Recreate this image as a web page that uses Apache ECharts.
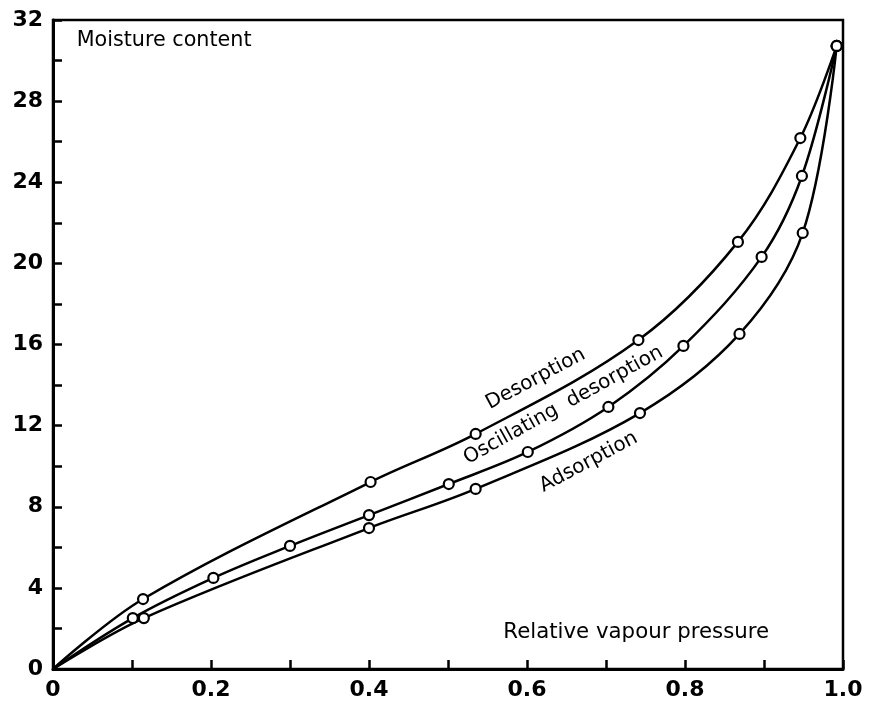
<!DOCTYPE html>
<html>
<head>
<meta charset="utf-8">
<script src="https://cdn.jsdelivr.net/npm/echarts@6/dist/echarts.min.js"></script>
<style>html,body{margin:0;padding:0;background:#fff}#c{width:872px;height:704px}</style>
</head>
<body>
<div id="c"></div>
<script>
// Relative vapour pressure (x) and moisture content (y)
const desorptionX = [0, 0.114, 0.402, 0.535, 0.741, 0.867, 0.946, 0.992];
const desorptionY = [0, 3.45, 9.22, 11.59, 16.22, 21.06, 26.18, 30.72];
const oscillatingX = [0, 0.101, 0.203, 0.300, 0.400, 0.501, 0.601, 0.703, 0.798, 0.897, 0.948, 0.992];
const oscillatingY = [0, 2.51, 4.49, 6.07, 7.59, 9.12, 10.70, 12.92, 15.93, 20.32, 24.31, 30.72];
const adsorptionX = [0, 0.115, 0.400, 0.535, 0.743, 0.869, 0.949, 0.992];
const adsorptionY = [0, 2.51, 6.95, 8.88, 12.62, 16.52, 21.50, 30.72];

const xTickLabels = ['0', '0.2', '0.4', '0.6', '0.8', '1.0'];
const yTickLabels = ['0', '4', '8', '12', '16', '20', '24', '28', '32'];

const curveLabels = [
  { text: 'Desorption', x: 0.611, y: 14.3, angle: 28 },
  { text: 'Oscillating  desorption', x: 0.646, y: 13.0, angle: 29 },
  { text: 'Adsorption', x: 0.678, y: 10.2, angle: 28 }
];
const axisTitles = [
  { text: 'Moisture content', x: 0.030, y: 31.0, size: 20.7 },
  { text: 'Relative vapour pressure', x: 0.570, y: 1.78, size: 21.3 }
];

function pts(xs, ys) {
  return xs.map((x, i) => i === 0 ? { value: [x, ys[i]], symbol: 'none' } : [x, ys[i]]);
}

const chart = echarts.init(document.getElementById('c'), null, { renderer: 'canvas' });
const FONT = 'DejaVu Sans';
function mkSeries(name, xs, ys) {
  return {
    name, type: 'line', data: pts(xs, ys),
    smooth: 0.35,
    symbol: 'circle', symbolSize: 10,
    itemStyle: { color: '#fff', borderColor: '#000', borderWidth: 2.2 },
    lineStyle: { color: '#000', width: 2.5 },
    z: 3, silent: true, animation: false
  };
}
chart.setOption({
  animation: false,
  backgroundColor: '#fff',
  grid: { left: 53, right: 29, top: 20, bottom: 35, show: true, borderColor: '#000', borderWidth: 2.5, backgroundColor: 'transparent' },
  xAxis: {
    type: 'value', min: 0, max: 1, interval: 0.1,
    axisLine: { lineStyle: { color: '#000', width: 3 } },
    axisTick: { inside: true, length: 9, lineStyle: { color: '#000', width: 2.5 } },
    splitLine: { show: false },
    axisLabel: {
      margin: 10, color: '#000', fontFamily: FONT, fontWeight: 'bold', fontSize: 22,
      formatter: v => { const k = Math.round(v * 10); return k % 2 === 0 ? xTickLabels[k / 2] : ''; }
    }
  },
  yAxis: {
    type: 'value', min: 0, max: 32, interval: 2,
    axisLine: { lineStyle: { color: '#000', width: 3 } },
    axisTick: { inside: true, length: 9, lineStyle: { color: '#000', width: 2.5 } },
    splitLine: { show: false },
    axisLabel: {
      margin: 10, color: '#000', fontFamily: FONT, fontWeight: 'bold', fontSize: 22,
      formatter: v => { const k = Math.round(v); return k % 4 === 0 ? yTickLabels[k / 4] : ''; }
    }
  },
  series: [
    mkSeries('Desorption', desorptionX, desorptionY),
    mkSeries('Oscillating desorption', oscillatingX, oscillatingY),
    mkSeries('Adsorption', adsorptionX, adsorptionY)
  ]
});

const graphics = [];
curveLabels.forEach(l => {
  const p = chart.convertToPixel({ gridIndex: 0 }, [l.x, l.y]);
  graphics.push({
    type: 'text', x: p[0], y: p[1], rotation: l.angle * Math.PI / 180, z: 10,
    style: { text: l.text, fill: '#000', font: '20px "' + FONT + '"', textAlign: 'center', textVerticalAlign: 'middle' }
  });
});
axisTitles.forEach(t => {
  const p = chart.convertToPixel({ gridIndex: 0 }, [t.x, t.y]);
  graphics.push({
    type: 'text', x: p[0], y: p[1], z: 10,
    style: { text: t.text, fill: '#000', font: t.size + 'px "' + FONT + '"', textAlign: 'left', textVerticalAlign: 'middle' }
  });
});
chart.setOption({ graphic: graphics });
</script>
</body>
</html>
